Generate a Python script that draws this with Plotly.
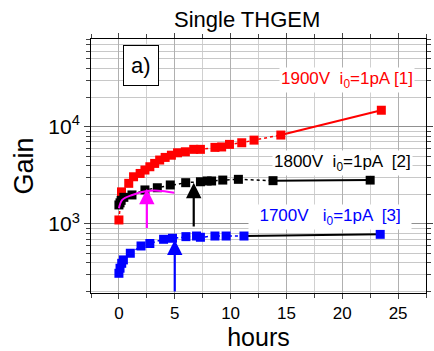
import numpy as np
import plotly.graph_objects as go

# data (hours, gain)
red_x = [0, 0.23, 0.88, 1.31, 1.9, 2.33, 2.77, 3.2, 3.65, 4.14, 4.7, 5.25, 5.95, 6.7, 7.3, 8.6, 9.2, 9.9, 11.0, 12.1, 14.5, 23.5]
red_y = [1100, 2140, 2620, 3060, 3310, 3590, 3880, 4200, 4550, 4840, 5100, 5400, 5530, 5860, 5860, 6140, 6200, 6590, 6850, 7290, 8220, 14800]
blk_x = [0, 0.1, 0.2, 0.44, 1.17, 2.33, 3.44, 4.6, 5.98, 7.3, 7.9, 8.3, 9.3, 10.7, 13.8, 22.5]
blk_y = [1570, 1650, 1750, 1880, 1990, 2240, 2360, 2520, 2660, 2720, 2770, 2770, 2830, 2880, 2790, 2830]
blu_x = [0, 0.1, 0.25, 0.4, 1.02, 1.98, 2.77, 4.0, 4.8, 6.0, 6.95, 7.3, 8.6, 9.6, 11.2, 23.4]
blu_y = [311, 351, 394, 427, 500, 594, 630, 696, 713, 741, 752, 730, 752, 752, 752, 783]
mag_x = [0, 0.3, 1.2, 2.5, 3.5, 4.96]
mag_y = [1450, 1770, 1990, 2180, 2200, 2100]

RED, BLU, MAG = "#ff0000", "#0000ff", "#ff00ff"

fig = go.Figure()
def series(x, y, color, lc):
    fig.add_trace(go.Scatter(x=x[:-1], y=y[:-1], mode="lines",
                             line=dict(color=color, width=1.5, dash="dot"), showlegend=False))
    fig.add_trace(go.Scatter(x=x[-2:], y=y[-2:], mode="lines",
                             line=dict(color=lc, width=2), showlegend=False))
    fig.add_trace(go.Scatter(x=x, y=y, mode="markers",
                             marker=dict(symbol="square", size=9, color=color), showlegend=False))

series(red_x, red_y, RED, RED)
series(blk_x, blk_y, "black", "black")
series(blu_x, blu_y, BLU, "black")
fig.add_trace(go.Scatter(x=mag_x, y=mag_y, mode="lines", line=dict(color=MAG, width=2, shape="spline"), showlegend=False))

ann = []
def arrow(x, y0, y1, color):
    ann.append(dict(x=x, y=np.log10(y1), ax=x, ay=np.log10(y0), xref="x", yref="y", axref="x", ayref="y",
                    showarrow=True, arrowhead=2, arrowsize=1.4, arrowwidth=2.2, arrowcolor=color, text=""))
arrow(2.5, 880, 2300, MAG)
arrow(6.7, 910, 2650, "black")
arrow(5.0, 195, 690, BLU)

font = "Liberation Sans, Arial, sans-serif"
def label(text, x, y, color):
    ann.append(dict(text=text, x=x, y=y, xref="paper", yref="paper", showarrow=False,
                    font=dict(family=font, size=17, color=color), bgcolor="white", xanchor="center", yanchor="middle"))
label("1900V  i<sub>0</sub>=1pA [1]", 0.763, 0.839, RED)
label("1800V  i<sub>0</sub>=1pA  [2]", 0.751, 0.512, "black")
label("  1700V   i<sub>0</sub>=1pA  [3]  ", 0.713, 0.299, BLU)
ann.append(dict(text="a)", x=0.148, y=0.894, xref="paper", yref="paper", showarrow=False,
                font=dict(family=font, size=22, color="black"), bgcolor="white", bordercolor="black",
                borderwidth=1, borderpad=7, xanchor="center", yanchor="middle"))
ann.append(dict(text="Single THGEM", x=0.465, y=1.075, xref="paper", yref="paper", showarrow=False,
                font=dict(family=font, size=22, color="black"), xanchor="center", yanchor="middle"))

fig.update_layout(
    width=434, height=351, margin=dict(l=91, r=1, t=39, b=58),
    paper_bgcolor="white", plot_bgcolor="white", annotations=ann,
    font=dict(family=font, color="black"),
    xaxis=dict(range=[-2.5, 27.5], tickvals=[0, 5, 10, 15, 20, 25], ticks="outside", ticklen=5,
               tickfont=dict(size=17), showgrid=True, gridcolor="#b0b0b0", gridwidth=1,
               minor=dict(dtick=2.5, tick0=0, ticks="outside", ticklen=4, showgrid=True, gridcolor="#d0d0d0"),
               showline=True, linecolor="black", linewidth=1, mirror="ticks", zeroline=False,
               title=dict(text="hours", font=dict(size=25), standoff=2)),
    yaxis=dict(type="log", range=[np.log10(195), np.log10(80000)], tickvals=[1000, 10000],
               ticktext=["10<sup>3</sup>", "10<sup>4</sup>"], ticks="outside", ticklen=6, tickfont=dict(size=21),
               showgrid=True, gridcolor="#909090", gridwidth=1,
               minor=dict(tickvals=[v * m for v in (100, 1000, 10000) for m in range(2, 10)],
                          ticks="outside", ticklen=4, showgrid=True, gridcolor="#c8c8c8"),
               showline=True, linecolor="black", linewidth=1, mirror="ticks", zeroline=False,
               title=dict(text="Gain", font=dict(size=27), standoff=6)),
)
fig.write_html("out.html")
